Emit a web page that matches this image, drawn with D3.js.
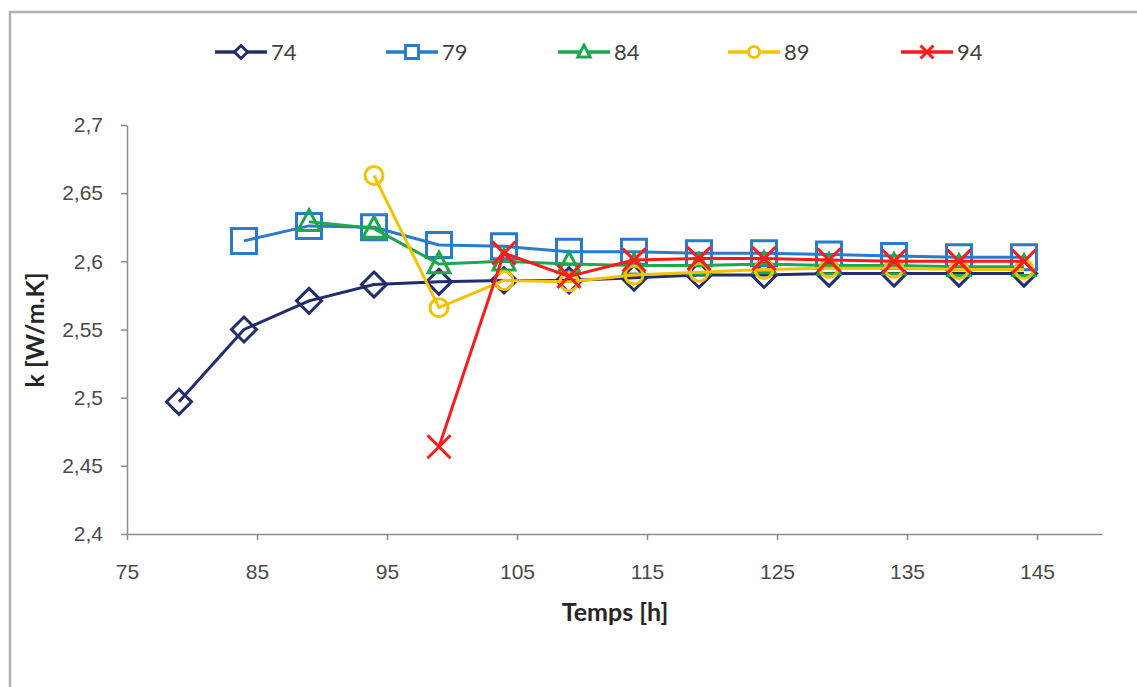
<!DOCTYPE html>
<html>
<head>
<meta charset="utf-8">
<script src="https://cdn.jsdelivr.net/npm/d3@7"></script>
<style>
  html, body { margin: 0; padding: 0; background: #fff; }
  svg { display: block; font-family: Lato, "Open Sans", sans-serif; }
</style>
</head>
<body>
<svg id="chart" width="1137" height="687"></svg>
<script>
// ---- data ----
const hours = [79, 84, 89, 94, 99, 104, 109, 114, 119, 124, 129, 134, 139, 144];
const seriesNames = ["74", "79", "84", "89", "94"];
const s74 = [2.497, 2.550, 2.571, 2.583, 2.585, 2.586, 2.586, 2.588, 2.590, 2.590, 2.591, 2.591, 2.591, 2.591];
const s79 = [2.615, 2.626, 2.625, 2.612, 2.611, 2.607, 2.607, 2.606, 2.606, 2.605, 2.604, 2.603, 2.603];
const s84 = [2.629, 2.624, 2.598, 2.600, 2.598, 2.597, 2.597, 2.598, 2.597, 2.597, 2.596, 2.596];
const s89 = [2.663, 2.566, 2.586, 2.585, 2.590, 2.592, 2.594, 2.595, 2.595, 2.594, 2.594];
const s94 = [2.464, 2.606, 2.589, 2.601, 2.602, 2.602, 2.601, 2.600, 2.600, 2.600];
const xTicks = [75, 85, 95, 105, 115, 125, 135, 145];
const yTicks = [2.4, 2.45, 2.5, 2.55, 2.6, 2.65, 2.7];
const xTitle = "Temps [h]";
const yTitle = "k [W/m.K]";

// ---- styling ----
const colors = ["#232C6E", "#2A7BCB", "#1BA94C", "#F5C200", "#FF1A1A"];
const shapes = ["diamond", "square", "triangle", "circle", "cross"];
const seriesValues = [s74, s79, s84, s89, s94];

const svg = d3.select("#chart");

// chart area border
svg.append("rect")
  .attr("x", 10).attr("y", 12).attr("width", 1200).attr("height", 700)
  .attr("fill", "#fff").attr("stroke", "#B0B0B0").attr("stroke-width", 2.5);

const x = d3.scaleLinear().domain([75, 150]).range([127, 1102]);
const y = d3.scaleLinear().domain([2.4, 2.7]).range([534, 125]);

const fmtY = d => String(+d.toFixed(2)).replace(".", ",");

// axes
const gx = svg.append("g").attr("transform", `translate(0,${y(2.4)})`)
  .call(d3.axisBottom(x).tickValues(xTicks).tickSizeInner(6).tickSizeOuter(0).tickPadding(24).tickFormat(d3.format("d")));
const gy = svg.append("g").attr("transform", `translate(${x(75)},0)`)
  .call(d3.axisLeft(y).tickValues(yTicks).tickSizeInner(6).tickSizeOuter(0).tickPadding(18).tickFormat(fmtY));
[gx, gy].forEach(g => {
  g.select(".domain").attr("stroke", "#8C8C8C").attr("stroke-width", 1.5);
  g.selectAll(".tick line").attr("stroke", "#8C8C8C").attr("stroke-width", 1.5);
  g.selectAll(".tick text").attr("fill", "#4A4A4A").attr("font-size", 21);
});

// axis titles
svg.append("text").attr("x", 615).attr("y", 612).attr("dy", "0.35em").attr("text-anchor", "middle")
  .attr("font-size", 25).attr("font-weight", "bold").attr("fill", "#262626").text(xTitle);
svg.append("text").attr("transform", `translate(35,330) rotate(-90)`).attr("dy", "0.35em").attr("text-anchor", "middle")
  .attr("font-size", 25).attr("font-weight", "bold").attr("fill", "#262626").text(yTitle);

// marker paths
function markerPath(shape, s) {
  const p = d3.path();
  if (shape === "diamond") {
    p.moveTo(0, -s); p.lineTo(s, 0); p.lineTo(0, s); p.lineTo(-s, 0); p.closePath();
  } else if (shape === "square") {
    p.rect(-s, -s, 2 * s, 2 * s);
  } else if (shape === "triangle") {
    p.moveTo(0, -s * 1.05); p.lineTo(s * 0.95, s * 0.75); p.lineTo(-s * 0.95, s * 0.75); p.closePath();
  } else if (shape === "circle") {
    p.arc(0, 0, s, 0, 2 * Math.PI);
  } else if (shape === "cross") {
    p.moveTo(-s, -s); p.lineTo(s, s); p.moveTo(s, -s); p.lineTo(-s, s);
  }
  return p.toString();
}
const markerSize = [12.5, 12.5, 11.5, 9, 11.5];

const line = d3.line().x(d => x(d[0])).y(d => y(d[1]));

seriesValues.forEach((vals, i) => {
  const offset = hours.length - vals.length;
  const pts = vals.map((v, j) => [hours[j + offset], v]);
  const g = svg.append("g");
  g.append("path").datum(pts).attr("d", line)
    .attr("fill", "none").attr("stroke", colors[i]).attr("stroke-width", 3)
    .attr("stroke-linejoin", "round");
  g.selectAll("path.m").data(pts).join("path").attr("class", "m")
    .attr("transform", d => `translate(${x(d[0])},${y(d[1])})`)
    .attr("d", markerPath(shapes[i], markerSize[i]))
    .attr("fill", "none").attr("stroke", colors[i]).attr("stroke-width", 3);
});

// legend
const legendX = [215, 386, 558, 728, 901];
seriesNames.forEach((name, i) => {
  const g = svg.append("g").attr("transform", `translate(${legendX[i]},52)`);
  g.append("line").attr("x1", 0).attr("x2", 52).attr("y1", 0).attr("y2", 0)
    .attr("stroke", colors[i]).attr("stroke-width", 3.5);
  g.append("path").attr("transform", "translate(26,0)")
    .attr("d", markerPath(shapes[i], i === 3 ? 5.5 : 6.5))
    .attr("fill", "#fff").attr("stroke", colors[i]).attr("stroke-width", 3);
  g.append("text").attr("x", 56).attr("y", 0).attr("dy", "0.35em")
    .attr("font-size", 22).attr("fill", "#404040").text(name);
});
</script>
</body>
</html>
